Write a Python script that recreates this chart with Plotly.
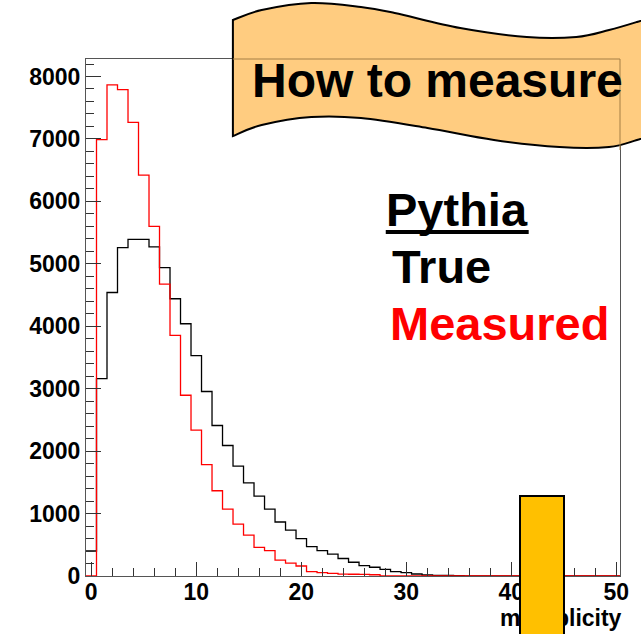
import plotly.graph_objects as go

# ---------------- data ----------------
bin_centers = list(range(0, 51))
true_counts = [400, 3160, 4540, 5260, 5390, 5390, 5270, 4940, 4440, 4040,
               3530, 2955, 2410, 2090, 1760, 1490, 1280, 1070, 865, 735,
               600, 470, 405, 350, 280, 220, 165, 140, 105, 70,
               55, 32, 16, 10, 8, 6, 0, 0, 0, 0,
               0, 0, 0, 0, 0, 0, 0, 0, 0, 0, 0]
measured_counts = [0, 6990, 7865, 7790, 7265, 6420, 5600, 4675, 3855, 2895,
                   2335, 1785, 1365, 1070, 830, 655, 460, 405, 255, 205,
                   160, 70, 55, 43, 30, 28, 25, 20, 0, 0,
                   0, 0, 0, 0, 0, 0, 0, 0, 0, 0,
                   0, 0, 0, 0, 0, 0, 0, 0, 0, 0, 0]
x_tick_vals = [0, 10, 20, 30, 40, 50]
y_tick_vals = [0, 1000, 2000, 3000, 4000, 5000, 6000, 7000, 8000]
x_title = "multiplicity"
banner_text = "How to measure"
legend_lines = ["Pythia", "True", "Measured"]

# ---------------- geometry helpers (pixel -> paper) ----------------
W, H = 641, 634
L, R, T, B = 86, 624, 59, 576
PW, PH = R - L, B - T


def px(x):
    return (x - L) / PW


def py(y):
    return (B - y) / PH


def step(centers, counts):
    edges = [c - 0.5 for c in centers] + [centers[-1] + 0.5]
    return edges, list(counts) + [counts[-1]]


fig = go.Figure()
xe, ye = step(bin_centers, true_counts)
fig.add_trace(go.Scatter(x=xe, y=ye, mode="lines", line=dict(color="black", width=1.3, shape="hv"),
                         name="True", showlegend=False, hoverinfo="skip"))
xe, ye = step(bin_centers, measured_counts)
fig.add_trace(go.Scatter(x=xe, y=ye, mode="lines", line=dict(color="#ff0000", width=1.3, shape="hv"),
                         name="Measured", showlegend=False, hoverinfo="skip"))

tickfont = dict(family="Liberation Sans, Arial, sans-serif", size=23, color="black", weight="bold")

fig.update_layout(
    width=W, height=H, autosize=False,
    margin=dict(l=L, r=W - R, t=T, b=H - B, pad=0),
    paper_bgcolor="white", plot_bgcolor="white",
    showlegend=False,
    xaxis=dict(range=[-0.5, 50.35], tickvals=x_tick_vals, ticks="inside", ticklen=14,
               tickcolor="#333", tickwidth=1, showgrid=False, zeroline=False,
               showline=True, linecolor="#555", linewidth=1, mirror=True,
               tickfont=tickfont, ticklabelstandoff=-5,
               minor=dict(dtick=2, tick0=0, ticks="inside", ticklen=8, tickcolor="#333", showgrid=False)),
    yaxis=dict(range=[0, 8280], tickvals=y_tick_vals, ticks="inside", ticklen=15,
               tickcolor="#333", tickwidth=1, showgrid=False, zeroline=False,
               showline=True, linecolor="#555", linewidth=1, mirror=True,
               tickfont=tickfont, ticklabelstandoff=0,
               minor=dict(dtick=200, tick0=0, ticks="inside", ticklen=8, tickcolor="#333", showgrid=False)),
)


# ---------------- banner ----------------
def smooth_path(pts):
    s = ""
    n = len(pts)
    for i in range(n - 1):
        p0 = pts[i - 1] if i > 0 else pts[i]
        p1 = pts[i]
        p2 = pts[i + 1]
        p3 = pts[i + 2] if i + 2 < n else pts[i + 1]
        c1 = (p1[0] + (p2[0] - p0[0]) / 6, p1[1] + (p2[1] - p0[1]) / 6)
        c2 = (p2[0] - (p3[0] - p1[0]) / 6, p2[1] - (p3[1] - p1[1]) / 6)
        s += " C %.5f,%.5f %.5f,%.5f %.5f,%.5f" % (px(c1[0]), py(c1[1]), px(c2[0]), py(c2[1]), px(p2[0]), py(p2[1]))
    return s


top = [(234, 20), (263, 10), (313, 3), (363, 7), (397, 13), (463, 28), (530, 37), (580, 37), (613, 30), (641, 22), (665, 14)]
bot = [(665, 132), (641, 140), (613, 147), (563, 147), (497, 140), (430, 128), (363, 118), (313, 117), (263, 125), (234, 136)]
path = "M %.5f,%.5f" % (px(top[0][0]), py(top[0][1])) + smooth_path(top)
path += " L %.5f,%.5f" % (px(bot[0][0]), py(bot[0][1])) + smooth_path(bot) + " Z"

shapes = [
    dict(type="path", xref="paper", yref="paper", path=path, fillcolor="#FFCC80",
         line=dict(color="black", width=2), layer="above"),
    # frame lines seen through the banner
    dict(type="line", xref="paper", yref="paper", x0=px(234), x1=1, y0=1, y1=1,
         line=dict(color="#A57F45", width=1), layer="above"),
    dict(type="line", xref="paper", yref="paper", x0=1, x1=1, y0=py(150), y1=1,
         line=dict(color="#A57F45", width=1), layer="above"),
    # underline for Pythia
    dict(type="line", xref="paper", yref="paper", x0=px(388), x1=px(532), y0=py(232), y1=py(232),
         line=dict(color="black", width=4), layer="above"),
]
fig.update_layout(shapes=shapes)

bigfont = dict(family="Liberation Sans, Arial, sans-serif", size=47, weight="bold")
annotations = [
    dict(text=banner_text, xref="paper", yref="paper", x=px(440), y=py(80), xanchor="center", yanchor="middle",
         showarrow=False, font=dict(family="Liberation Sans, Arial, sans-serif", size=48, weight="bold", color="black")),
    dict(text=legend_lines[0], xref="paper", yref="paper", x=px(386), y=py(209), xanchor="left", yanchor="middle",
         showarrow=False, font=dict(bigfont, color="black")),
    dict(text=legend_lines[1], xref="paper", yref="paper", x=px(392), y=py(266), xanchor="left", yanchor="middle",
         showarrow=False, font=dict(bigfont, color="black")),
    dict(text=legend_lines[2], xref="paper", yref="paper", x=px(390), y=py(323), xanchor="left", yanchor="middle",
         showarrow=False, font=dict(bigfont, color="#ff0000")),
    dict(text=x_title, xref="paper", yref="paper", x=px(628), y=py(618), xanchor="right", yanchor="middle",
         showarrow=False, font=dict(tickfont)),
    # gold marker box drawn on top of the axis labels
    dict(text=" ", xref="paper", yref="paper", x=px(545), y=py(570), xanchor="center", yanchor="middle",
         showarrow=False, width=40, height=144, bgcolor="#FFC000", bordercolor="black", borderwidth=2, borderpad=1,
         font=dict(size=10)),
]
fig.update_layout(annotations=annotations)

fig.write_html("out.html")
